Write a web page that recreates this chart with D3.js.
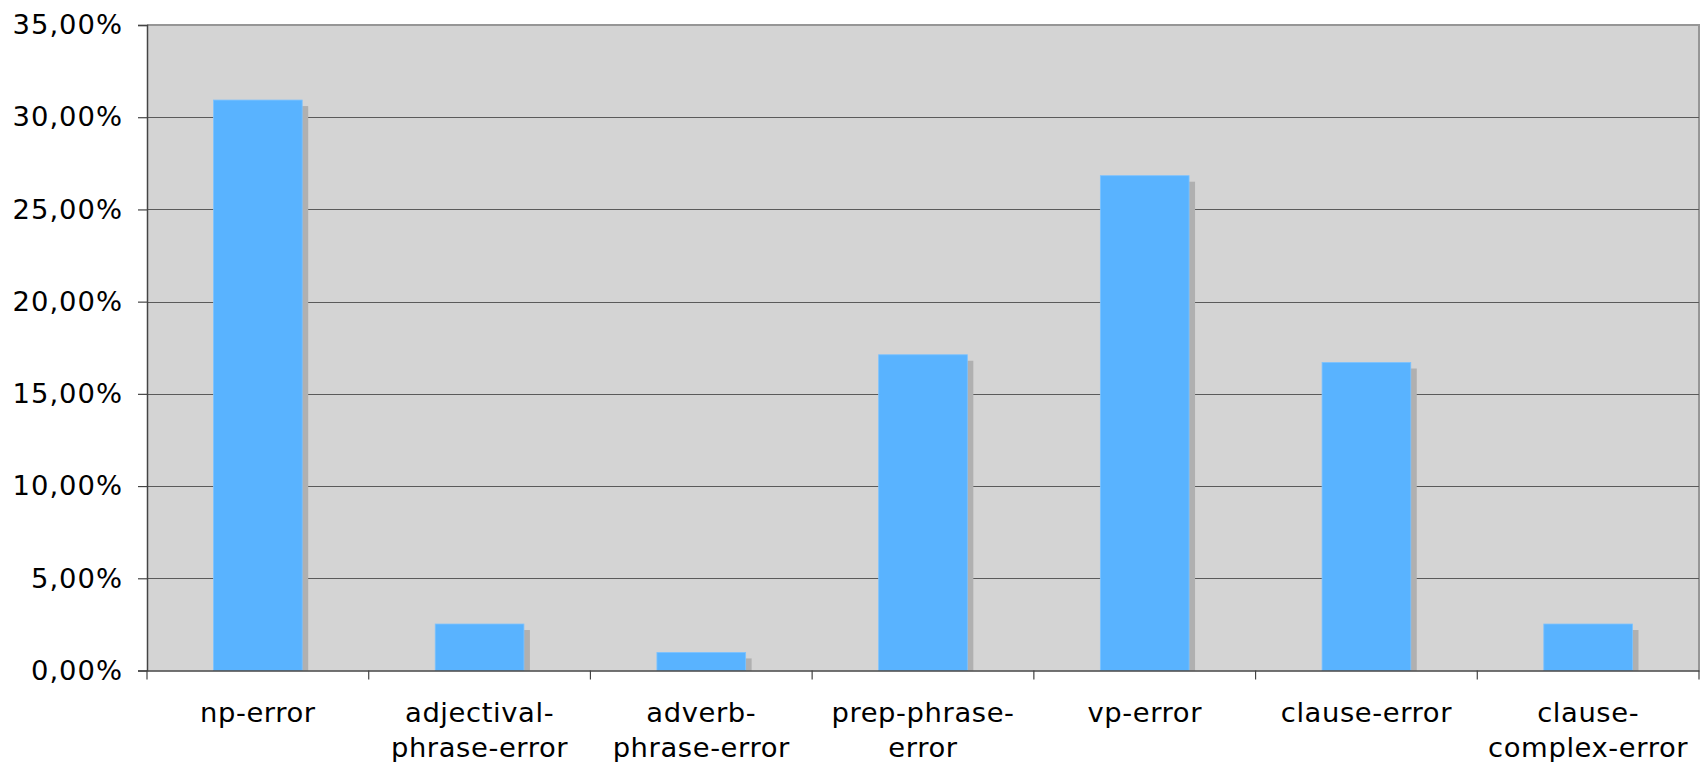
<!DOCTYPE html>
<html>
<head>
<meta charset="utf-8">
<script src="https://cdn.jsdelivr.net/npm/d3@7"></script>
<style>
  html, body { margin: 0; padding: 0; background: #ffffff; }
  svg { display: block; }
  text { font-family: "DejaVu Sans", Verdana, sans-serif; }
</style>
</head>
<body>
<svg id="chart" width="1701" height="762"></svg>
<script>
// ---- data ----
const categories = [
  ["np-error"],
  ["adjectival-", "phrase-error"],
  ["adverb-", "phrase-error"],
  ["prep-phrase-", "error"],
  ["vp-error"],
  ["clause-error"],
  ["clause-", "complex-error"]
];
const categoryKeys = ["np-error", "adjectival-phrase-error", "adverb-phrase-error",
  "prep-phrase-error", "vp-error", "clause-error", "clause-complex-error"];
const values = [30.93, 2.52, 0.98, 17.12, 26.83, 16.70, 2.52]; // percent
const yTicks = [0, 5, 10, 15, 20, 25, 30, 35];

// ---- layout ----
const plot = { left: 147, right: 1699, top: 25, bottom: 670.5 };
const svg = d3.select("#chart");

const x = d3.scaleBand().domain(categoryKeys).range([plot.left, plot.right]).paddingInner(0).paddingOuter(0);
const y = d3.scaleLinear().domain([0, 35]).range([plot.bottom, plot.top]);

const locale = d3.formatLocale({ decimal: ",", thousands: ".", grouping: [3], currency: ["", "€"] });
const fmt = v => locale.format(".2f")(v) + "%";

// background
svg.append("rect")
  .attr("x", plot.left).attr("y", plot.top)
  .attr("width", plot.right - plot.left).attr("height", plot.bottom - plot.top)
  .attr("fill", "#d4d4d4");

// top & right frame
svg.append("path")
  .attr("d", `M${plot.left},${plot.top}H${plot.right}V${plot.bottom}`)
  .attr("fill", "none").attr("stroke", "#969696").attr("stroke-width", 2);

// grid lines
svg.append("g").selectAll("line")
  .data(yTicks.filter(t => t > 0 && t < 35))
  .join("line")
  .attr("x1", plot.left).attr("x2", plot.right)
  .attr("y1", d => Math.round(y(d)) + 0.5).attr("y2", d => Math.round(y(d)) + 0.5)
  .attr("stroke", "#5a5a5a").attr("stroke-width", 1.2);

// bars
const barW = x.bandwidth() * 0.4;
const shadow = 6;
const bars = svg.append("g");
bars.selectAll("rect.shadow")
  .data(values)
  .join("rect").attr("class", "shadow")
  .attr("x", (d, i) => x(categoryKeys[i]) + x.bandwidth() / 2 - barW / 2 + shadow)
  .attr("y", d => y(d) + shadow)
  .attr("width", barW)
  .attr("height", d => Math.max(0, plot.bottom - y(d) - shadow))
  .attr("fill", "#b0b0b0");
bars.selectAll("rect.bar")
  .data(values)
  .join("rect").attr("class", "bar")
  .attr("x", (d, i) => x(categoryKeys[i]) + x.bandwidth() / 2 - barW / 2)
  .attr("y", d => y(d))
  .attr("width", barW)
  .attr("height", d => plot.bottom - y(d))
  .attr("fill", "#59b3ff")
  .attr("stroke", "#7cc2ff").attr("stroke-width", 0.8);

// y axis
const yAxis = d3.axisLeft(y).tickValues(yTicks).tickFormat(fmt).tickSize(9).tickPadding(15);
const gy = svg.append("g").attr("transform", `translate(${plot.left},0)`).call(yAxis);
gy.select(".domain").attr("stroke", "#444").attr("stroke-width", 1.5);
gy.selectAll(".tick line").attr("stroke", "#444").attr("stroke-width", 1.2);
gy.selectAll(".tick text").attr("font-size", 27.4).attr("fill", "#000")
  .attr("letter-spacing", "1px")
  .attr("font-family", "'DejaVu Sans', Verdana, sans-serif");

// x axis
const xAxis = d3.axisBottom(x).tickSize(0).tickFormat("");
const gx = svg.append("g").attr("transform", `translate(0,${plot.bottom})`).call(xAxis);
gx.select(".domain").attr("stroke", "#444").attr("stroke-width", 1.5);
gx.selectAll(".tick").remove();
// category separators (ticks at band boundaries)
const bounds = categoryKeys.map(k => x(k)).concat([plot.right]);
gx.selectAll("line.sep").data(bounds).join("line").attr("class", "sep")
  .attr("x1", d => d).attr("x2", d => d)
  .attr("y1", 0).attr("y2", 9)
  .attr("stroke", "#444").attr("stroke-width", 1.2);

// category labels
const lab = svg.append("g").selectAll("text")
  .data(categories)
  .join("text")
  .attr("x", (d, i) => x(categoryKeys[i]) + x.bandwidth() / 2)
  .attr("y", 722)
  .attr("text-anchor", "middle")
  .attr("font-size", 27.4)
  .attr("letter-spacing", "0.6px")
  .attr("fill", "#000");
lab.selectAll("tspan")
  .data(d => d)
  .join("tspan")
  .attr("x", function () { return d3.select(this.parentNode).attr("x"); })
  .attr("dy", (d, i) => i === 0 ? 0 : 34.5)
  .text(d => d);
</script>
</body>
</html>
